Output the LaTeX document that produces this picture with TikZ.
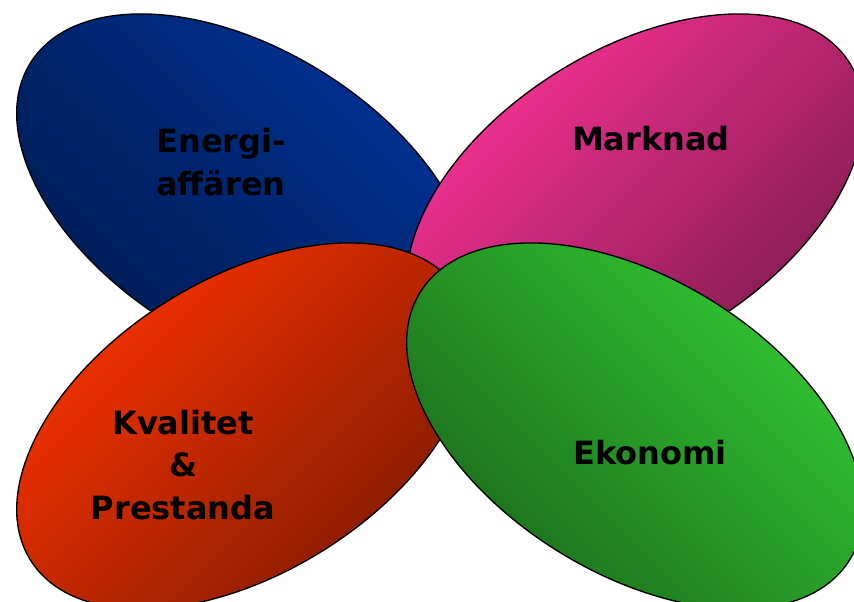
\documentclass[tikz,border=0pt]{standalone}
\usepackage{fontspec}
\setmainfont{DejaVu Sans}
\definecolor{blaljus}{HTML}{003399}
\definecolor{blamork}{HTML}{001A4D}
\definecolor{rosaljus}{HTML}{FF3399}
\definecolor{rosamork}{HTML}{7A1A4C}
\definecolor{rodljus}{HTML}{FF3300}
\definecolor{rodmork}{HTML}{7A1A00}
\definecolor{gronljus}{HTML}{33CC33}
\definecolor{gronmork}{HTML}{1A661A}
\tikzset{
  petal/.style={draw=black,line width=1pt},
  etikett/.style={black,align=center,font=\bfseries\fontsize{24}{32}\selectfont}
}
\begin{document}
\begin{tikzpicture}[x=0.75pt,y=0.75pt]
\useasboundingbox (0,0) rectangle (854,-602);
\clip (0,0) rectangle (854,-602);
\path[petal,top color=blaljus,bottom color=blamork,shading angle=-45] (245,-197) ellipse [x radius=253,y radius=147,rotate=-32];
\path[petal,top color=rosaljus,bottom color=rosamork,shading angle=45] (635,-197) ellipse [x radius=253,y radius=147,rotate=32];
\path[petal,top color=rodljus,bottom color=rodmork,shading angle=45] (245,-426) ellipse [x radius=253,y radius=147,rotate=32];
\path[petal,top color=gronljus,bottom color=gronmork,shading angle=-45] (635,-426) ellipse [x radius=253,y radius=147,rotate=-32];
\node[etikett] (energi) at (221,-162) {Energi-\\affären};
\node[etikett] (marknad) at (651,-139) {Marknad};
\node[etikett] (kvalitet) at (183,-465) {Kvalitet\\\&\\Prestanda};
\node[etikett] (ekonomi) at (650,-453) {Ekonomi};
\end{tikzpicture}
\end{document}
